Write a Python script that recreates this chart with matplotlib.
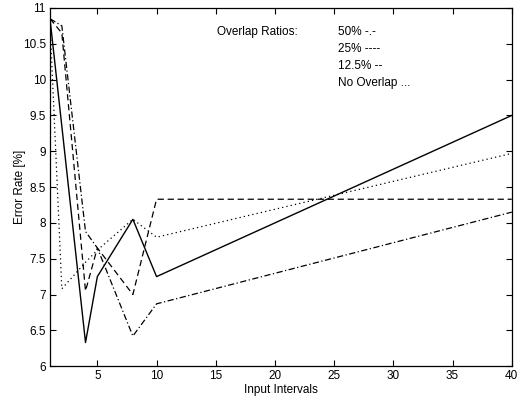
import matplotlib
matplotlib.use('Agg')
import matplotlib.pyplot as plt

intervals = [1, 2, 4, 5, 8, 10, 40]
err_50 = [10.85, 10.75, 7.88, 7.65, 6.42, 6.87, 8.15]
err_25 = [10.85, 9.35, 6.33, 7.25, 8.05, 7.25, 9.5]
err_125 = [10.85, 10.65, 7.05, 7.65, 7.0, 8.33, 8.33]
err_none = [10.8, 7.08, 7.45, 7.62, 8.05, 7.8, 8.97]

legend_lines = ['50% -.-', '25% ----', '12.5% --', 'No Overlap ...']

plt.rcParams['font.family'] = ['Liberation Sans', 'DejaVu Sans']
plt.rcParams['font.size'] = 8.5

fig = plt.figure(figsize=(5.18, 3.98), dpi=100)
ax = fig.add_axes([0.0965, 0.080, 0.8915, 0.900])

ax.plot(intervals, err_50, color='black', lw=0.9, linestyle=(0, (5, 2, 1, 2)))
ax.plot(intervals, err_25, color='black', lw=1.0, linestyle='-')
ax.plot(intervals, err_125, color='black', lw=0.9, linestyle=(0, (5, 3)))
ax.plot(intervals, err_none, color='black', lw=0.9, linestyle=(0, (1, 2.5)))

ax.set_xlim(1, 40)
ax.set_ylim(6, 11)
ax.set_xticks([5, 10, 15, 20, 25, 30, 35, 40])
ax.set_yticks([6, 6.5, 7, 7.5, 8, 8.5, 9, 9.5, 10, 10.5, 11])
ax.set_yticklabels(['6', '6.5', '7', '7.5', '8', '8.5', '9', '9.5', '10', '10.5', '11'])
ax.tick_params(direction='in', top=True, right=True, length=4, width=0.8, pad=3)
for s in ax.spines.values():
    s.set_linewidth(0.9)

ax.set_xlabel('Input Intervals', labelpad=1)
ax.set_ylabel('Error Rate [%]', labelpad=-2.5)

ax.text(0.361, 0.933, 'Overlap Ratios:', transform=ax.transAxes, va='center', ha='left')
ys = [0.933, 0.885, 0.838, 0.790]
for txt, yy in zip(legend_lines, ys):
    ax.text(0.623, yy, txt, transform=ax.transAxes, va='center', ha='left')

fig.savefig('out.png', dpi=100)
